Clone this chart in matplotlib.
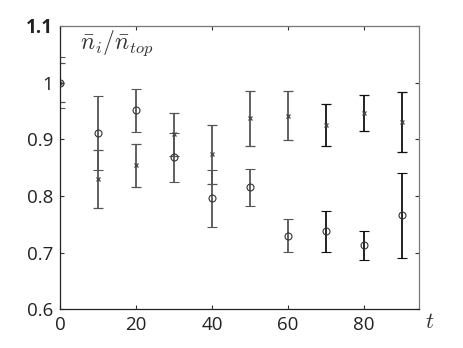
import matplotlib
matplotlib.use('Agg')
import matplotlib.pyplot as plt

plt.rcParams['mathtext.fontset'] = 'cm'
plt.rcParams['font.family'] = ['Open Sans', 'DejaVu Sans']

t = [0, 10, 20, 30, 40, 50, 60, 70, 80, 90]
circ = [1.0, 0.911, 0.951, 0.868, 0.796, 0.815, 0.730, 0.738, 0.713, 0.766]
circ_err = [0.045, 0.065, 0.038, 0.044, 0.050, 0.033, 0.029, 0.036, 0.026, 0.075]
cross = [1.0, 0.830, 0.854, 0.909, 0.874, 0.937, 0.942, 0.926, 0.946, 0.931]
cross_err = [0.035, 0.052, 0.038, 0.038, 0.052, 0.048, 0.044, 0.037, 0.032, 0.053]
bar_colors = ['#555555'] * 7 + ['#111111'] * 3

fig = plt.figure(figsize=(4.63, 3.48), dpi=100)
ax = fig.add_axes([0.1296, 0.1112, 0.7747, 0.8141])

for i in range(len(t)):
    ax.errorbar(t[i], circ[i], yerr=circ_err[i], fmt='o', mfc='none', mec='#333333',
                ms=5, mew=0.8, ecolor=bar_colors[i], elinewidth=1.3, capsize=3.5, capthick=1.1)
    ax.errorbar(t[i], cross[i], yerr=cross_err[i], fmt='x', mec='#444444',
                ms=3.5, mew=0.9, ecolor=bar_colors[i], elinewidth=1.3, capsize=3.5, capthick=1.1)

ax.set_xlim(0, 94.4)
ax.set_ylim(0.6, 1.1)
ax.set_xticks([0, 20, 40, 60, 80])
ax.set_yticks([0.6, 0.7, 0.8, 0.9, 1.0, 1.1])
ax.set_yticklabels(['0.6', '0.7', '0.8', '0.9', '1', '1.1'])
ax.tick_params(direction='in', length=3, width=0.8, color='#333333', labelsize=13.5,
               labelcolor='#222222', top=True, right=True, pad=5)
for name in ['top', 'right']:
    ax.spines[name].set_color('#777777')
for name in ['left', 'bottom']:
    ax.spines[name].set_color('#222222')
for sp in ax.spines.values():
    sp.set_linewidth(0.9)
ax.get_yticklabels()[-1].set_fontweight('bold')

ax.text(0.055, 0.99, r'$\bar{n}_i/\bar{n}_{top}$', transform=ax.transAxes,
        fontsize=17, va='top', ha='left', color='#333333')
ax.text(1.03, -0.045, r'$t$', transform=ax.transAxes, fontsize=16, va='center', ha='center',
        color='#333333')

fig.savefig('out.png', dpi=100)
